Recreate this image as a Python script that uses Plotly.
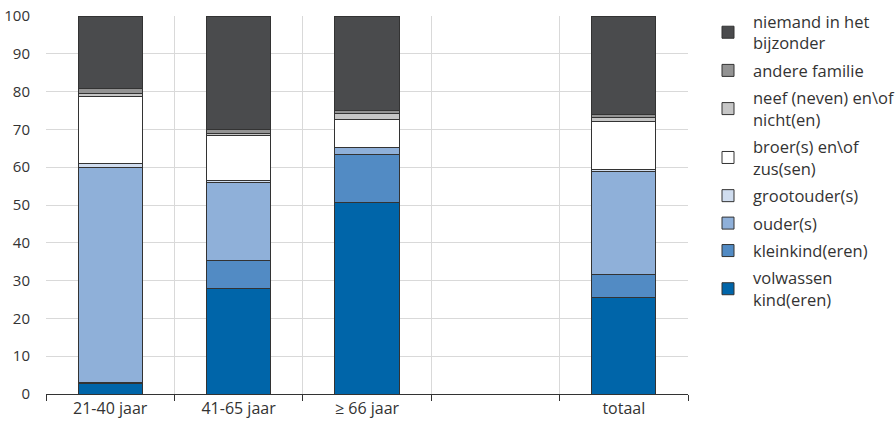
import plotly.graph_objects as go

categories = ["21-40 jaar", "41-65 jaar", "≥ 66 jaar", "", "totaal"]
positions = [0, 1, 2, 3, 4]

volwassen_kind = [2.9, 28.0, 50.7, 0, 25.4]
kleinkind = [0.2, 7.2, 12.7, 0, 6.1]
ouder = [56.9, 20.7, 1.8, 0, 27.4]
grootouder = [1.0, 0.5, 0.0, 0, 0.6]
broer_zus = [17.7, 12.0, 7.5, 0, 12.6]
neef_nicht = [0.7, 0.6, 1.6, 0, 1.1]
andere_familie = [1.4, 1.0, 0.7, 0, 0.8]
niemand = [19.2, 30.0, 25.0, 0, 26.0]

series = [
    ("volwassen<br>kind(eren)", volwassen_kind, "#0065a9"),
    ("kleinkind(eren)", kleinkind, "#528bc4"),
    ("ouder(s)", ouder, "#8fb0d9"),
    ("grootouder(s)", grootouder, "#d0ddef"),
    ("broer(s) en\\of<br>zus(sen)", broer_zus, "#ffffff"),
    ("neef (neven) en\\of<br>nicht(en)", neef_nicht, "#c6c6c6"),
    ("andere familie", andere_familie, "#939393"),
    ("niemand in het<br>bijzonder", niemand, "#4a4b4d"),
]

ytick_vals = list(range(0, 101, 10))
boundaries = [-0.5, 0.5, 1.5, 2.5, 3.5, 4.5]

fig = go.Figure()
for i, (name, vals, color) in enumerate(series):
    fig.add_trace(go.Bar(
        x=positions, y=vals, name=name, width=0.5,
        legendgroup=f"g{i}", legendrank=1000 - i,
        marker=dict(color=color, line=dict(color="#333333", width=1)),
        hoverinfo="skip",
    ))

# invisible trace to drive the boundary-tick axis
fig.add_trace(go.Scatter(x=[boundaries[0], boundaries[-1]], y=[0, 0], xaxis="x2",
                         mode="markers", marker=dict(opacity=0), showlegend=False,
                         hoverinfo="skip"))

font_family = "'Open Sans', 'Noto Sans', sans-serif"
fig.update_layout(
    barmode="stack",
    width=896, height=428,
    margin=dict(l=46, r=208, t=16, b=34, autoexpand=False),
    paper_bgcolor="white", plot_bgcolor="white",
    font=dict(family=font_family, size=14, color="#333333"),
    showlegend=True,
    legend=dict(
        traceorder="grouped",
        xref="container", yref="container",
        x=0.7846, xanchor="left", y=0.99, yanchor="top",
        font=dict(size=16.5, color="#333333"),
        tracegroupgap=3, itemwidth=40, bgcolor="rgba(0,0,0,0)",
        maxheight=428,
    ),
    xaxis=dict(
        range=[-0.5, 4.5], tickvals=positions, ticktext=categories,
        showgrid=False, ticks="", zeroline=False, automargin=False,
        showline=True, linecolor="#333333", linewidth=1,
        tickfont=dict(size=16, color="#333333"),
    ),
    xaxis2=dict(
        range=[-0.5, 4.5], overlaying="x", side="bottom", automargin=False,
        tickvals=boundaries, showticklabels=False,
        showgrid=True, gridcolor="#d9d9d9", gridwidth=1,
        ticks="outside", ticklen=6, tickcolor="#333333", tickwidth=1,
        zeroline=False, showline=False, layer="below traces",
    ),
    yaxis=dict(
        range=[0, 100], tickvals=ytick_vals, automargin=False,
        showgrid=True, gridcolor="#d9d9d9", gridwidth=1,
        zeroline=False, showline=False, ticks="",
        tickfont=dict(size=15, color="#333333"),
        ticklabelstandoff=15, ticklabeloverflow="allow",
        layer="below traces",
    ),
)

# remove the default 8px page margin so the figure fills the 896x428 window exactly
fig.write_html("out.html", config={"displayModeBar": False},
               post_script="document.body.style.margin='0';")
